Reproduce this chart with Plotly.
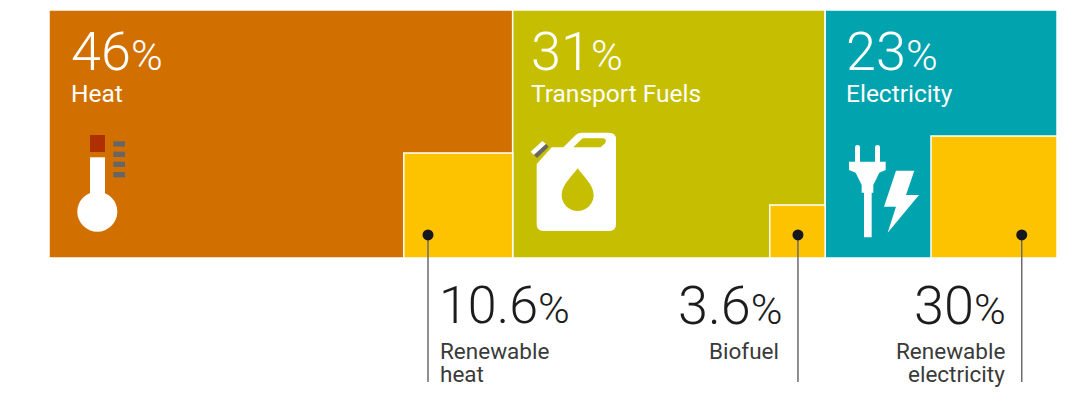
# Share of final energy use by sector, with the renewable part of each sector

import plotly.graph_objects as go

# the page keeps its 8px body margin, so the figure starts at (8, 8)
PAGE_MARGIN = 8
WIDTH = 1072
HEIGHT = 393

categories = ["Heat", "Transport Fuels", "Electricity"]
shares = [46, 31, 23]
colors = ["#D17000", "#C6BE00", "#00A3AE"]

renewable_labels = [["Renewable", "heat"], ["Biofuel"], ["Renewable", "electricity"]]
renewable_values = ["10.6", "3.6", "30"]
# size of the yellow boxes in axis units
renewable_widths = [10.8, 5.5, 12.5]
renewable_heights = [42.3, 21.4, 49.2]
renewable_color = "#FDC200"

# leader lines
leader_x = [37.6, 74.3, 96.5]
leader_top = 9.3
leader_bottom = -50


def px(x):
    return (x - PAGE_MARGIN) / WIDTH


def py(y):
    return 1 - (y - PAGE_MARGIN) / HEIGHT


def path(points, ox=0, scale=1.0, close=True):
    # points are (x, y) or (cmd, x, y, ...) in page pixels or zoomed pixels
    out = []
    for i, p in enumerate(points):
        if isinstance(p[0], str):
            cmd, vals = p[0], p[1:]
        else:
            cmd, vals = ("M" if i == 0 else "L"), p
        pairs = []
        for j in range(0, len(vals), 2):
            pairs.append(f"{px(ox + vals[j] * scale):.5f},{py(vals[j + 1] * scale):.5f}")
        out.append(cmd + " ".join(pairs))
    return " ".join(out) + (" Z" if close else "")


def icon_shape(points, color, ox=0, scale=1.0):
    return dict(type="path", xref="paper", yref="paper", path=path(points, ox, scale),
                fillcolor=color, line=dict(width=0), layer="above")


def box_shape(x0, y0, x1, y1, color):
    return dict(type="rect", xref="paper", yref="paper", x0=px(x0), x1=px(x1), y0=py(y0), y1=py(y1),
                fillcolor=color, line=dict(width=0), layer="above")


lefts = [sum(shares[:i]) for i in range(len(shares))]
rights = [l + s for l, s in zip(lefts, shares)]

fig = go.Figure()
fig.add_trace(go.Bar(
    x=[l + s / 2 for l, s in zip(lefts, shares)],
    y=[100] * len(shares),
    width=shares,
    marker=dict(color=colors, line=dict(color="white", width=1.5)),
    name="Share",
    hovertext=categories,
))
fig.add_trace(go.Bar(
    x=[r - w / 2 for r, w in zip(rights, renewable_widths)],
    y=renewable_heights,
    width=renewable_widths,
    marker=dict(color=renewable_color, line=dict(color="white", width=1.5)),
    name="Renewable",
))

for x in leader_x:
    fig.add_trace(go.Scatter(x=[x, x], y=[leader_top, leader_bottom], mode="lines",
                             line=dict(color="#6b6b6b", width=1.5), hoverinfo="skip"))
fig.add_trace(go.Scatter(x=leader_x, y=[leader_top] * 3, mode="markers",
                         marker=dict(color="#16161f", size=11), hoverinfo="skip"))

shapes = []

# thermometer
shapes.append(box_shape(90, 135, 105, 152, "#AE2F00"))
for top in [141.3, 151.7, 161.7, 172]:
    shapes.append(box_shape(113.3, top, 125, top + 5.3, "#666666"))
shapes.append(box_shape(90, 157.3, 105, 200, "white"))
shapes.append(dict(type="circle", xref="paper", yref="paper", x0=px(77.3), x1=px(117.3),
                   y0=py(191.7), y1=py(231.7), fillcolor="white", line=dict(width=0), layer="above"))

# jerrycan, drawn from the 3x zoom
can = [(80, 492), (125, 442), (160, 442), (198, 404), ("Q", 205, 398, 215, 398), (298, 398),
       ("Q", 318, 398, 318, 418), (318, 673), ("Q", 318, 693, 298, 693), (100, 693),
       ("Q", 80, 693, 80, 673)]
can_hole = [(190, 442), (213, 419), ("Q", 217, 415, 222, 415), (280, 415), ("Q", 292, 418, 285, 430),
            (272, 442)]
drop = [(203, 505), ("C", 185, 530, 155, 555, 155, 585), ("C", 155, 612, 177, 633, 203, 633),
        ("C", 229, 633, 251, 612, 251, 585), ("C", 251, 555, 221, 530, 203, 505)]
cap_top = [(62, 455), (97, 423), (108, 432), (72, 465)]
cap_low = [(72, 465), (108, 432), (116, 440), (81, 474)]
shapes.append(icon_shape(can, "white", 510, 1 / 3))
shapes.append(icon_shape(can_hole, colors[1], 510, 1 / 3))
shapes.append(icon_shape(drop, colors[1], 510, 1 / 3))
shapes.append(icon_shape(cap_top, "white", 510, 1 / 3))
shapes.append(icon_shape(cap_low, "#666666", 510, 1 / 3))

# plug and bolt
plug = [(105, 442), ("Q", 105, 435, 112, 435), ("Q", 120, 435, 120, 442), (120, 485), (165, 485), (165, 442),
        ("Q", 165, 435, 172, 435), ("Q", 180, 435, 180, 442), (180, 485), (197, 485), (197, 510),
        (178, 518), (160, 555), (160, 578), (155, 578), (155, 712), (132, 712), (132, 578), (125, 578),
        (125, 555), (107, 518), (87, 510), (87, 485), (105, 485)]
bolt = [(228, 512), (283, 512), (258, 585), (297, 585), (203, 698), (228, 620), (192, 620)]
shapes.append(icon_shape(plug, "white", 820, 1 / 3))
shapes.append(icon_shape(bolt, "white", 820, 1 / 3))

annotations = []


def note(x, y, text, size, color, anchor="left", weight=300):
    annotations.append(dict(xref="paper", yref="paper", x=px(x), y=py(y), text=text, showarrow=False,
                            xanchor=anchor, yanchor="middle", align=anchor,
                            font=dict(family="Roboto", size=size, color=color, weight=weight)))


def pct(value, size):
    return f'{value}<span style="font-size:{size}px">%</span>'


share_x = [69, 529, 844]
for x, s, c in zip(share_x, shares, categories):
    note(x, 51, pct(s, 43), 54, "white")
    note(x, 93, c, 24.5, "white", weight=400)

value_x = [437, 785, 1008]
value_size = [52, 54, 54]
value_anchor = ["left", "right", "right"]
label_x = [438.5, 781, 1007]
for i in range(3):
    note(value_x[i], 305, pct(renewable_values[i], 43), value_size[i], "#1c1c1c", value_anchor[i])
    for j, line in enumerate(renewable_labels[i]):
        note(label_x[i], 351 + 23 * j, line, 22.5, "#3a3a3a", value_anchor[i], weight=400)

fig.update_layout(
    width=WIDTH,
    height=HEIGHT,
    margin=dict(l=0, r=0, t=0, b=0),
    barmode="overlay",
    showlegend=False,
    plot_bgcolor="white",
    paper_bgcolor="white",
    xaxis=dict(range=[-4.067, 102.28], visible=False, fixedrange=True),
    yaxis=dict(range=[-57.66, 100.81], visible=False, fixedrange=True),
    shapes=shapes,
    annotations=annotations,
)

fig.write_html("out.html")
